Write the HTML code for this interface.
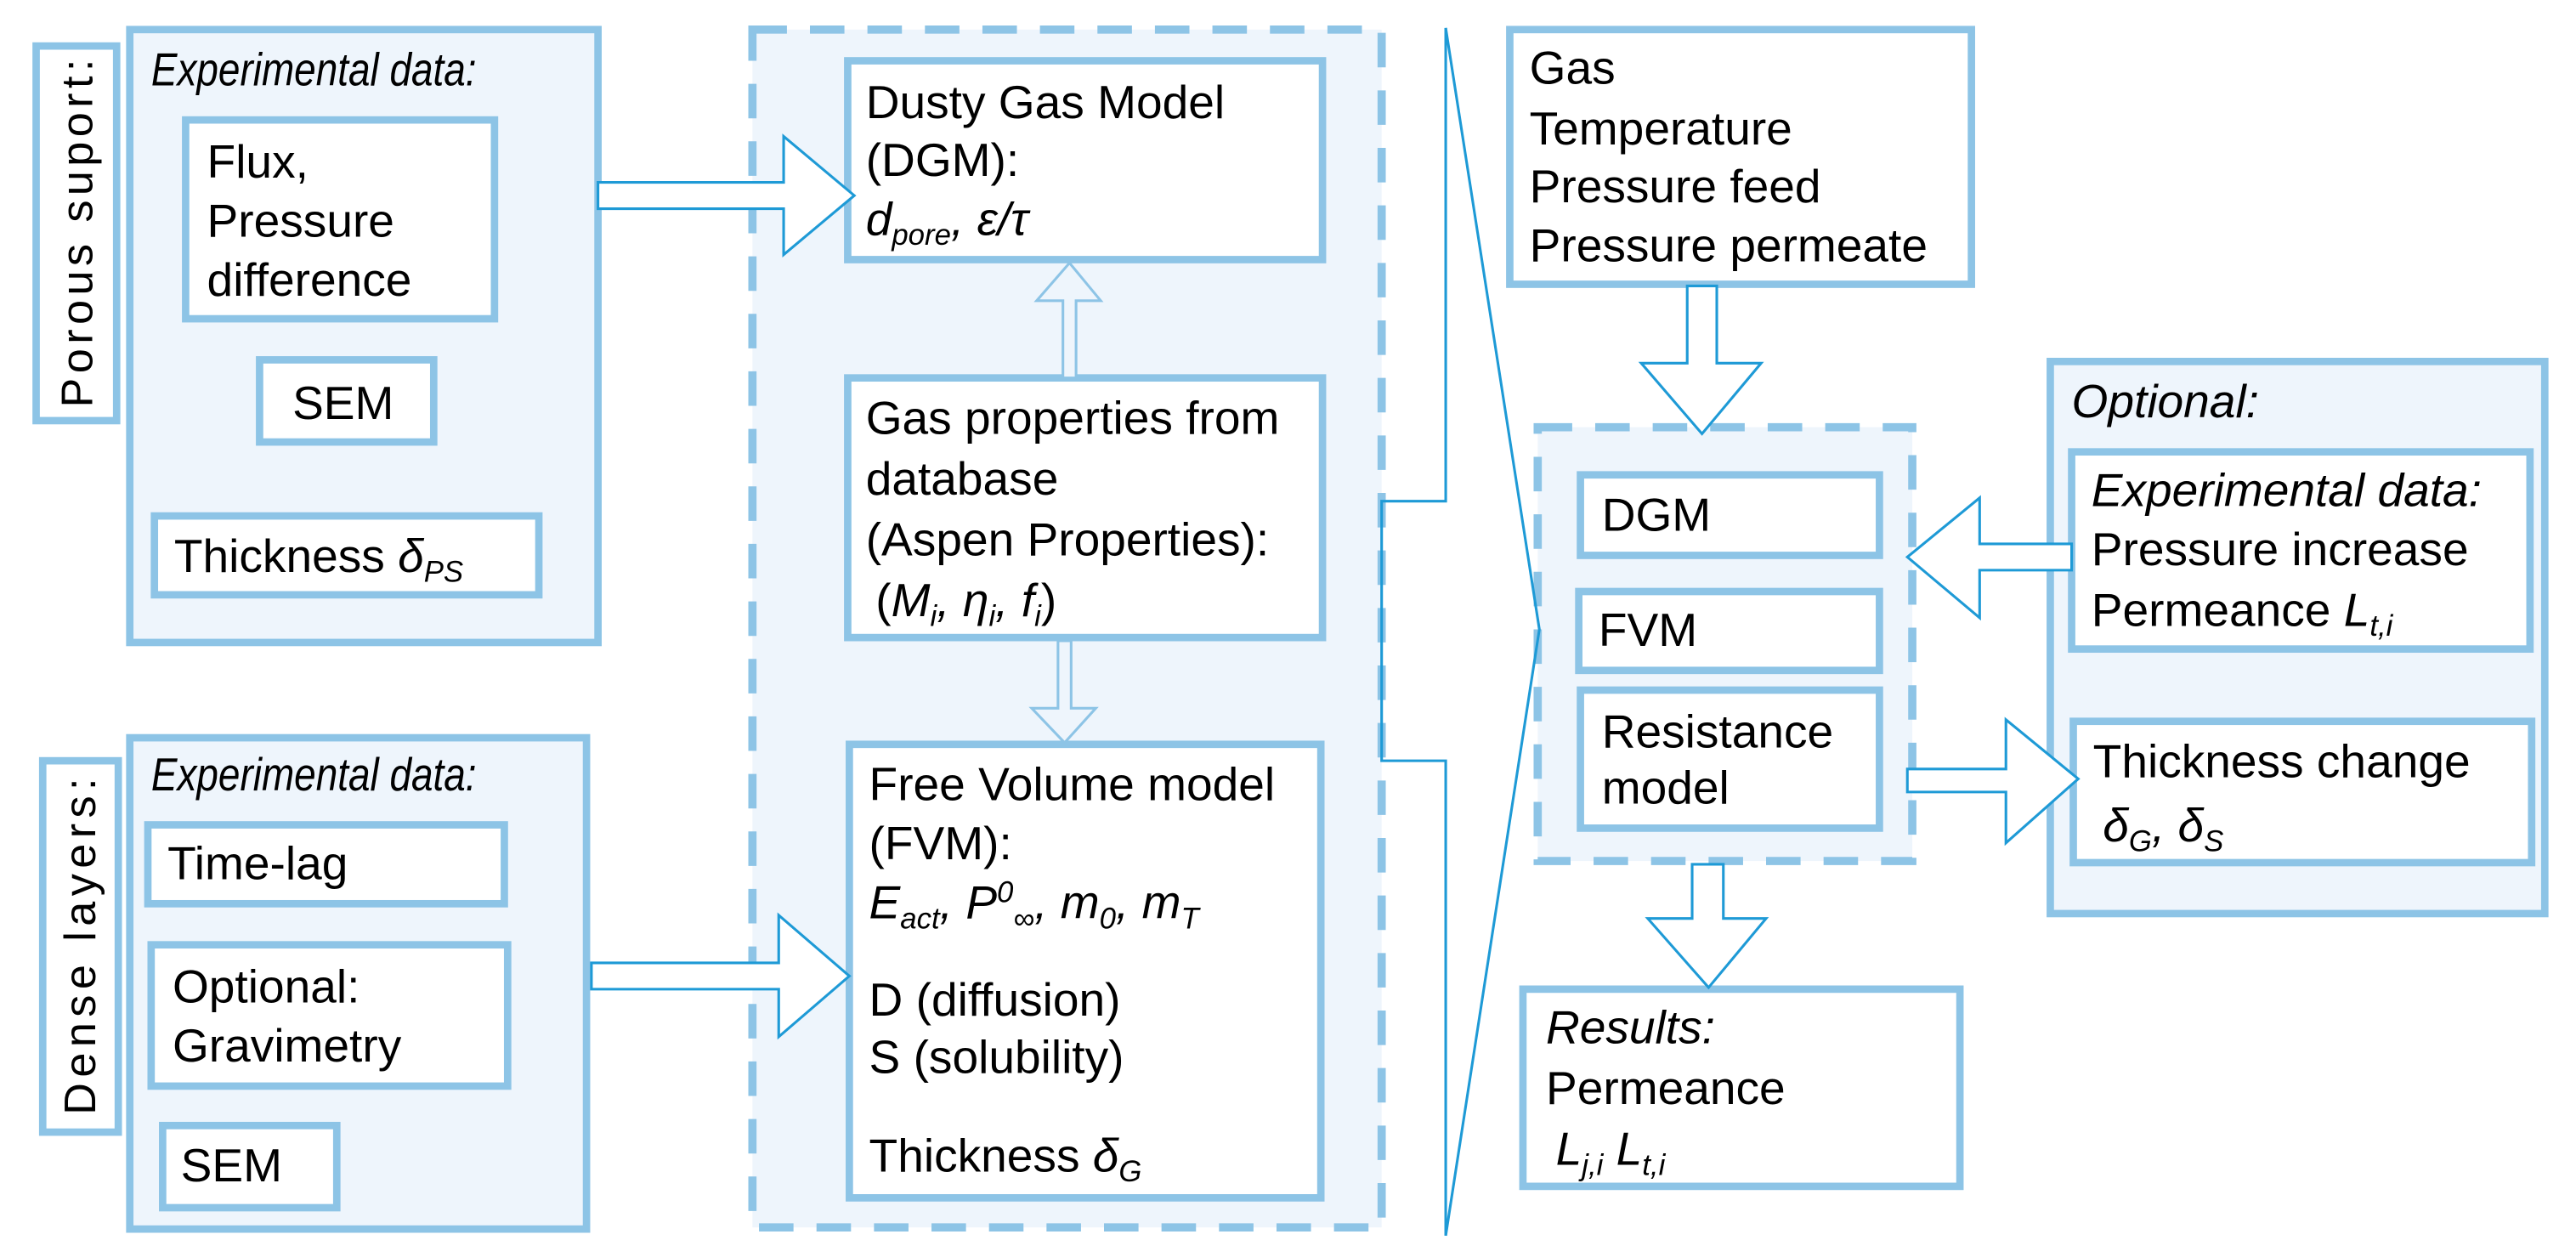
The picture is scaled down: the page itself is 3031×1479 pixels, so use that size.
<!DOCTYPE html>
<html><head><meta charset="utf-8"><style>
html,body{margin:0;padding:0;background:#fff}
svg{display:block}
text{font-family:"Liberation Sans",Arial,sans-serif;font-size:28.5px;fill:#000}
.i{font-style:italic}
.s{font-size:18px}
</style></head><body>
<svg width="3031" height="1479" viewBox="0 0 1568 765" preserveAspectRatio="none" xmlns="http://www.w3.org/2000/svg">
<g fill="#eef5fc" stroke="#8dc4e6" stroke-width="4.5">
  <rect x="458" y="18" width="383" height="729" stroke-width="5" stroke-dasharray="21 14"/>
  <rect x="936" y="260" width="228" height="264" stroke-width="5" stroke-dasharray="21 14"/>
  <rect x="79" y="18" width="285" height="373"/>
  <rect x="79" y="449" width="278" height="299"/>
  <rect x="1248" y="220" width="301" height="336"/>
</g>
<g fill="#fff" stroke="#8dc4e6" stroke-width="4.5">
  <rect x="22" y="28" width="49" height="228"/>
  <rect x="26" y="463" width="46" height="226"/>
  <rect x="113" y="73" width="188" height="121"/>
  <rect x="158" y="219" width="106" height="50"/>
  <rect x="94" y="314" width="234" height="48"/>
  <rect x="90" y="502" width="217" height="48"/>
  <rect x="92" y="575" width="217" height="86"/>
  <rect x="99" y="685" width="106" height="50"/>
  <rect x="516" y="37" width="289" height="121"/>
  <rect x="516" y="230" width="289" height="158"/>
  <rect x="517" y="453" width="287" height="276"/>
  <rect x="919" y="18" width="281" height="155"/>
  <rect x="962" y="289" width="182" height="49"/>
  <rect x="961" y="360" width="183" height="48"/>
  <rect x="962" y="420" width="182" height="84"/>
  <rect x="927" y="602" width="266" height="120"/>
  <rect x="1261" y="275" width="279" height="120"/>
  <rect x="1262" y="439" width="279" height="86"/>
</g>
<g fill="#eef5fc" stroke="#8dc4e6" stroke-width="1.6">
  <polygon points="647,230 647,183 631,183 651,160 670,183 655,183 655,230"/>
  <polygon points="644,390 644,431 628,431 648,452 667,431 652,431 652,390"/>
</g>
<g fill="#fff" stroke="#1e9ad6" stroke-width="1.6">
  <polygon points="364,111 477,111 477,83 520,119 477,155 477,127 364,127"/>
  <polygon points="360,586 474,586 474,557 517,594 474,631 474,602 360,602"/>
  <polygon points="1027,174 1045,174 1045,221 1072,221 1036,264 999,221 1027,221"/>
  <polygon points="1030,526 1049,526 1049,559 1075,559 1040,601 1003,559 1030,559"/>
  <polygon points="1261,331 1205,331 1205,303 1161,339 1205,376 1205,347 1261,347"/>
  <polygon points="1161,468 1221,468 1221,438 1265,474 1221,513 1221,482 1161,482"/>
</g>
<g fill="none" stroke="#1e9ad6" stroke-width="1.6">
  <polyline points="880,17 880,305 841,305 841,463 880,463 880,752"/>
  <polyline points="880,17 937,383 880,752"/>
</g>
<text transform="translate(56,142) rotate(-90)" text-anchor="middle" style="font-size:27px" textLength="212" lengthAdjust="spacing">Porous suport:</text>
<text transform="translate(58,576) rotate(-90)" text-anchor="middle" style="font-size:27px" textLength="205" lengthAdjust="spacing">Dense layers:</text>
<text x="92" y="52" class="i" textLength="198" lengthAdjust="spacingAndGlyphs">Experimental data:</text>
<text x="126" y="108">Flux,</text>
<text x="126" y="144">Pressure</text>
<text x="126" y="180">difference</text>
<text x="178" y="255">SEM</text>
<text x="106" y="348">Thickness <tspan class="i">δ</tspan><tspan class="i s" dy="6">PS</tspan></text>
<text x="92" y="481" class="i" textLength="198" lengthAdjust="spacingAndGlyphs">Experimental data:</text>
<text x="102" y="535">Time-lag</text>
<text x="105" y="610">Optional:</text>
<text x="105" y="646">Gravimetry</text>
<text x="110" y="719">SEM</text>
<text x="527" y="72">Dusty Gas Model</text>
<text x="527" y="107">(DGM):</text>
<text x="527" y="143" class="i">d<tspan class="s" dy="6">pore</tspan><tspan dy="-6">, ε/τ</tspan></text>
<text x="527" y="264">Gas properties from</text>
<text x="527" y="301">database</text>
<text x="527" y="338">(Aspen Properties):</text>
<text x="533" y="375"> (<tspan class="i">M</tspan><tspan class="i s" dy="6">i</tspan><tspan class="i" dy="-6">, η</tspan><tspan class="i s" dy="6">i</tspan><tspan class="i" dy="-6">, f</tspan><tspan class="i s" dy="6">i</tspan><tspan dy="-6">)</tspan></text>
<text x="529" y="487">Free Volume model</text>
<text x="529" y="523">(FVM):</text>
<text x="529" y="559" class="i">E<tspan class="s" dy="6">act</tspan><tspan dy="-6">, P</tspan><tspan class="s" dy="-10">0</tspan><tspan class="s" dy="16">∞</tspan><tspan dy="-6">, m</tspan><tspan class="s" dy="6">0</tspan><tspan dy="-6">, m</tspan><tspan class="s" dy="6">T</tspan></text>
<text x="529" y="618">D (diffusion)</text>
<text x="529" y="653">S (solubility)</text>
<text x="529" y="713">Thickness <tspan class="i">δ</tspan><tspan class="i s" dy="6">G</tspan></text>
<text x="931" y="51">Gas</text>
<text x="931" y="88">Temperature</text>
<text x="931" y="123">Pressure feed</text>
<text x="931" y="159">Pressure permeate</text>
<text x="975" y="323">DGM</text>
<text x="973" y="393">FVM</text>
<text x="975" y="455">Resistance</text>
<text x="975" y="489">model</text>
<text x="941" y="635" class="i">Results:</text>
<text x="941" y="672">Permeance</text>
<text x="947" y="709" class="i">L<tspan class="s" dy="6">j,i</tspan><tspan dy="-6"> L</tspan><tspan class="s" dy="6">t,i</tspan></text>
<text x="1261" y="254" class="i">Optional:</text>
<text x="1273" y="308" class="i">Experimental data:</text>
<text x="1273" y="344">Pressure increase</text>
<text x="1273" y="381">Permeance <tspan class="i">L</tspan><tspan class="i s" dy="6">t,i</tspan></text>
<text x="1274" y="473">Thickness change</text>
<text x="1280" y="512" class="i">δ<tspan class="s" dy="6">G</tspan><tspan dy="-6">, δ</tspan><tspan class="s" dy="6">S</tspan></text>
</svg>
</body></html>
